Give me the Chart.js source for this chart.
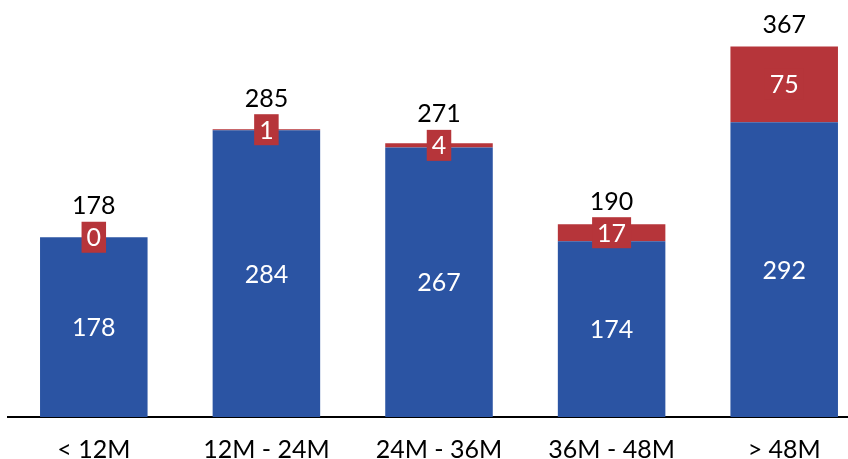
<!DOCTYPE html>
<html>
<head>
<meta charset="utf-8">
<script src="https://cdn.jsdelivr.net/npm/chart.js@4/dist/chart.umd.min.js"></script>
<style>
  html, body { margin: 0; padding: 0; background: #fff; overflow: hidden; }
  #wrap { width: 848px; height: 459px; overflow: hidden; position: relative; }
  canvas { display: block; }
</style>
</head>
<body>
<div id="wrap"><canvas id="c" width="871" height="459"></canvas></div>
<script>
// Age buckets and counts
const categories = ['< 12M', '12M - 24M', '24M - 36M', '36M - 48M', '> 48M'];
const blueValues = [178, 284, 267, 174, 292];
const redValues  = [0, 1, 4, 17, 75];
const totalLabels = [178, 285, 271, 190, 367];

const BLUE = '#2B54A3';
const RED = '#B6353A';
const FONT = 'Lato, "Open Sans", sans-serif';

function drawText(ctx, text, x, yCenter, color) {
  const m = ctx.measureText(text);
  const asc = m.actualBoundingBoxAscent;
  ctx.fillStyle = color;
  ctx.fillText(text, x, yCenter + asc / 2);
}

const barLabels = {
  id: 'barLabels',
  afterDatasetsDraw(chart) {
    const ctx = chart.ctx;
    const blueMeta = chart.getDatasetMeta(0);
    const redMeta = chart.getDatasetMeta(1);
    ctx.save();
    ctx.font = '25px ' + FONT;
    ctx.textAlign = 'center';
    ctx.textBaseline = 'alphabetic';
    categories.forEach((_, i) => {
      const b = blueMeta.data[i];
      const r = redMeta.data[i];
      // value inside the blue segment
      drawText(ctx, String(blueValues[i]), b.x, (b.y + b.base) / 2, '#fff');
      // boxed value on the red segment
      const rc = (r.y + r.base) / 2;
      const txt = String(redValues[i]);
      const w = ctx.measureText(txt).width + 10;
      const h = 31;
      ctx.fillStyle = RED;
      ctx.fillRect(r.x - w / 2, rc - h / 2, w, h);
      drawText(ctx, txt, r.x, rc, '#fff');
      // stack total above
      const top = Math.min(r.y, b.y);
      const baseY = Math.min(top - 13, rc - h / 2 - 7.5);
      ctx.fillStyle = '#000';
      ctx.fillText(String(totalLabels[i]), b.x, baseY);
    });
    ctx.restore();
  }
};

new Chart(document.getElementById('c'), {
  type: 'bar',
  data: {
    labels: categories,
    datasets: [
      { data: blueValues, backgroundColor: BLUE, borderWidth: 0 },
      { data: redValues, backgroundColor: RED, borderWidth: 0 }
    ]
  },
  options: {
    responsive: false,
    animation: false,
    devicePixelRatio: 1,
    layout: { padding: { left: 7.5, right: 0.5, top: 5, bottom: 0 } },
    datasets: { bar: { categoryPercentage: 1, barPercentage: 0.623 } },
    plugins: { legend: { display: false }, tooltip: { enabled: false } },
    scales: {
      x: {
        stacked: true,
        grid: { display: false, drawTicks: false },
        border: { display: true, color: '#000', width: 2 },
        ticks: { color: '#000', font: { family: FONT, size: 25 }, padding: 18, maxRotation: 0 },
        afterFit(scale) { scale.height = 42; }
      },
      y: {
        stacked: true,
        display: false,
        min: 0,
        max: 408
      }
    }
  },
  plugins: [barLabels]
});
</script>
</body>
</html>
